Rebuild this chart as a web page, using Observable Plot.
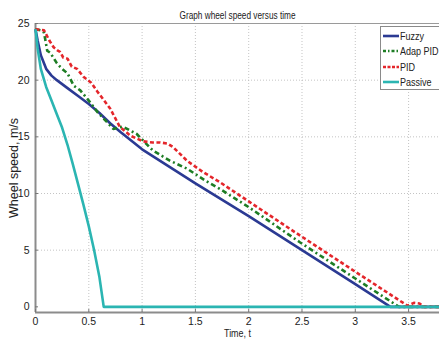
<!DOCTYPE html>
<html>
<head>
<meta charset="utf-8">
<script src="https://cdn.jsdelivr.net/npm/d3@7"></script>
<script src="https://cdn.jsdelivr.net/npm/@observablehq/plot@0.6"></script>
<style>
  html, body { margin: 0; padding: 0; background: #fff; }
  #wrap { position: relative; width: 439px; height: 343px; overflow: hidden; }
  #legend { position: absolute; left: 380px; top: 26px; width: 70px; height: 64px;
    border: 1px solid #8a8a8a; background: #fff; box-sizing: border-box;
    font-family: "Liberation Sans", Arial, sans-serif; font-size: 11px; color: #222; padding-top: 1px; }
  .row { display: flex; align-items: center; height: 15.5px; padding-left: 2px; white-space: nowrap; }
  .row svg { margin-right: 1px; flex: none; }
  .row span { display: inline-block; transform: scaleX(0.82); transform-origin: left center; }
</style>
</head>
<body>
<div id="wrap"></div>
<script>
// ---- data ----
const seriesNames = ["Fuzzy", "Adap PID", "PID", "Passive"];
const seriesColors = ["#2b3a93", "#1d7d24", "#e4262b", "#2bb5b2"];

const fuzzyT = [0, 0.02, 0.05, 0.1, 0.15, 0.2, 0.3, 0.4, 0.5, 0.6, 0.7, 0.8, 1.0, 1.5, 2.0, 2.5, 3.0, 3.33, 3.8];
const fuzzyV = [24.5, 23.5, 22.2, 21.0, 20.4, 20.0, 19.3, 18.6, 17.9, 17.1, 16.2, 15.4, 13.9, 10.9, 8.0, 5.0, 2.0, 0, 0];

const adapT = [0, 0.05, 0.08, 0.11, 0.14, 0.2, 0.25, 0.3, 0.36, 0.42, 0.5, 0.58, 0.66, 0.73, 0.82, 0.95, 1.1, 1.26, 1.42, 1.6, 1.73, 2.0, 2.48, 3.0, 3.41, 3.8];
const adapV = [24.5, 24.4, 24.2, 22.6, 22.4, 21.5, 21.0, 20.6, 19.5, 19.1, 18.2, 17.2, 16.4, 15.7, 15.9, 15.25, 13.8, 12.9, 12.2, 11.1, 10.4, 8.8, 5.7, 2.5, 0, 0];

const pidT = [0, 0.08, 0.13, 0.17, 0.21, 0.23, 0.26, 0.3, 0.34, 0.39, 0.45, 0.52, 0.58, 0.7, 0.79, 0.89, 1.01, 1.1, 1.17, 1.24, 1.29, 1.42, 1.57, 1.73, 2.0, 2.48, 3.0, 3.49, 3.55, 3.6, 3.65, 3.8];
const pidV = [24.5, 24.4, 23.5, 22.9, 22.6, 22.5, 22.0, 21.9, 21.2, 21.0, 20.3, 19.8, 19.0, 17.5, 15.9, 15.1, 14.6, 14.5, 14.5, 14.4, 14.1, 12.9, 11.9, 11.0, 9.3, 6.3, 3.1, 0.1, 0.35, 0.3, 0, 0];

const passiveT = [0, 0.02, 0.05, 0.1, 0.15, 0.2, 0.25, 0.3, 0.35, 0.4, 0.45, 0.5, 0.55, 0.6, 0.64, 3.8];
const passiveV = [24.5, 22.8, 21.0, 19.4, 18.2, 17.0, 15.8, 14.3, 12.6, 10.8, 9.0, 7.1, 5.0, 2.6, 0, 0];

const xTicks = [0, 0.5, 1, 1.5, 2, 2.5, 3, 3.5];
const yTicks = [0, 5, 10, 15, 20, 25];
const xDomain = [0, 3.79];
const yDomain = [-0.5, 25];

const titleText = "Graph wheel speed versus time";
const xLabel = "Time, t";
const yLabel = "Wheel speed, m/s";

// ---- build table ----
const seriesT = [fuzzyT, adapT, pidT, passiveT];
const seriesV = [fuzzyV, adapV, pidV, passiveV];
const rows = [];
seriesNames.forEach((name, i) => {
  seriesT[i].forEach((t, j) => rows.push({series: name, t, v: seriesV[i][j]}));
});
const dashes = {"Fuzzy": null, "Adap PID": "5,3,2,3", "PID": "4,2.5", "Passive": null};

const font = "'Liberation Sans', Arial, sans-serif";
const gridStyle = {stroke: "#b5b5b5", strokeOpacity: 1, strokeDasharray: "1,2", strokeWidth: 0.8};

const marks = [
  Plot.gridX(xTicks.slice(1), gridStyle),
  Plot.gridY(yTicks.slice(1), gridStyle),
  Plot.ruleX([xDomain[0]], {stroke: "#8c8c8c", strokeWidth: 2}),
  Plot.ruleY([yDomain[0]], {stroke: "#8c8c8c", strokeWidth: 2}),
  Plot.ruleY([yDomain[1]], {stroke: "#9a9a9a", strokeWidth: 1.2}),
  Plot.axisX({ticks: xTicks, tickSize: 0, tickPadding: 5, label: null, fontSize: 10.5, tickFormat: d => String(d)}),
  Plot.axisY({ticks: yTicks, tickSize: 0, tickPadding: 6, label: null, fontSize: 10.5}),
  Plot.axisX({ticks: xTicks, text: null, label: null, tickSize: -3, stroke: "#777"}),
  Plot.axisY({ticks: yTicks, text: null, label: null, tickSize: -3, stroke: "#777"})
];
seriesNames.forEach((name, i) => {
  marks.push(Plot.line(rows.filter(d => d.series === name), {
    x: "t", y: "v", stroke: seriesColors[i], strokeWidth: 2.6,
    strokeDasharray: dashes[name], strokeLinejoin: "round", strokeLinecap: "butt"
  }));
});
marks.push(
  Plot.text([titleText], {frameAnchor: "top", dy: -13, fontSize: 11.5, fill: "#222"}),
  Plot.text([xLabel], {frameAnchor: "bottom", dy: 24, fontSize: 11, fill: "#222"}),
  Plot.text([yLabel], {frameAnchor: "left", dx: -22, rotate: -90, textAnchor: "middle", fontSize: 12.5, fill: "#222"})
);

const chart = Plot.plot({
  width: 439, height: 343,
  marginLeft: 35, marginRight: 0, marginTop: 23, marginBottom: 31,
  x: {domain: xDomain},
  y: {domain: yDomain},
  style: {fontFamily: font, background: "#fff", color: "#222", overflow: "visible"},
  marks
});
const wrap = document.getElementById("wrap");
wrap.appendChild(chart);

// narrow the title and x label like the reference's condensed face
d3.select(chart).selectAll("text").each(function() {
  const s = this.textContent;
  if (s === titleText) { this.setAttribute("textLength", 116); this.setAttribute("lengthAdjust", "spacingAndGlyphs"); }
  if (s === xLabel) { this.setAttribute("textLength", 27); this.setAttribute("lengthAdjust", "spacingAndGlyphs"); }
});

// ---- legend ----
const legend = document.createElement("div");
legend.id = "legend";
seriesNames.forEach((name, i) => {
  const row = document.createElement("div");
  row.className = "row";
  const dash = dashes[name] ? `stroke-dasharray="${name === "PID" ? "3,1.5" : "3,2,1.5,2"}"` : "";
  row.innerHTML = `<svg width="16" height="6"><line x1="0" y1="3" x2="16" y2="3" stroke="${seriesColors[i]}" stroke-width="2.6" ${dash}/></svg><span>${name}</span>`;
  legend.appendChild(row);
});
wrap.appendChild(legend);
</script>
</body>
</html>
